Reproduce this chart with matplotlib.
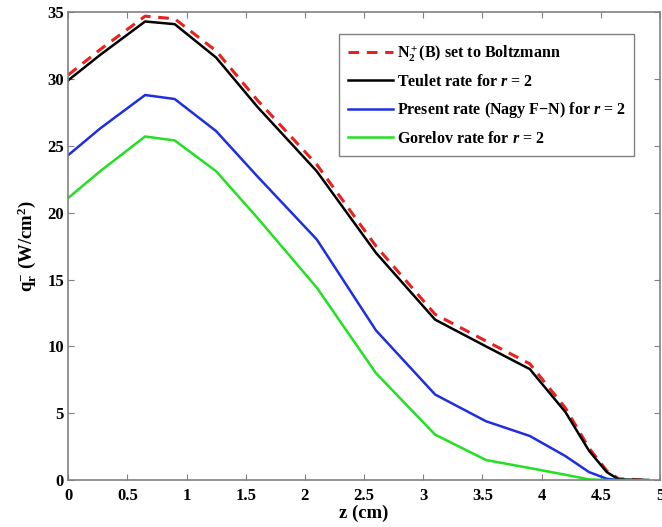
import numpy as np
import matplotlib
matplotlib.use("Agg")
import matplotlib.pyplot as plt

plt.rcParams['font.family'] = 'Liberation Serif'
plt.rcParams['font.weight'] = 'bold'
plt.rcParams['mathtext.fontset'] = 'custom'
plt.rcParams['mathtext.rm'] = 'Liberation Serif:bold'
plt.rcParams['mathtext.it'] = 'Liberation Serif:italic:bold'
plt.rcParams['mathtext.bf'] = 'Liberation Serif:bold'

# valores
z = [0, 0.27, 0.65, 0.9, 1.25, 1.6, 2.1, 2.6, 3.1, 3.53, 3.9, 4.2, 4.4, 4.55, 4.65, 4.9]
boltzmann = [30.3, 32.2, 34.7, 34.5, 32.1, 28.4, 23.6, 17.5, 12.4, 10.4, 8.7, 5.4, 2.4, 0.7, 0.1, 0.0]
teulet = [29.9, 31.8, 34.3, 34.1, 31.6, 27.9, 23.1, 17.0, 12.0, 10.0, 8.3, 5.1, 2.2, 0.6, 0.05, 0.0]
nagy = [24.3, 26.3, 28.8, 28.5, 26.1, 22.7, 18.0, 11.2, 6.4, 4.4, 3.3, 1.8, 0.6, 0.1, 0.0, 0.0]
gorelov = [21.1, 23.1, 25.7, 25.4, 23.1, 19.6, 14.4, 8.0, 3.4, 1.5, 0.9, 0.4, 0.05, 0.0, 0.0, 0.0]

etiquetas = [r'N$_2^+$(B) set to Boltzmann',
             r'Teulet rate for $r$ = 2',
             r'Present rate (Nagy F$-$N) for $r$ = 2',
             r'Gorelov rate for $r$ = 2']

fig = plt.figure(figsize=(6.62, 5.27), dpi=100)
ax = fig.add_axes([0.103, 0.089, 0.894, 0.888])

ax.plot(z, boltzmann, '--', color='#e8231e', lw=2.2, dashes=(3.5, 2.5), label=etiquetas[0])
ax.plot(z, teulet, '-', color='black', lw=1.8, label=etiquetas[1])
ax.plot(z, nagy, '-', color='#1f2ee0', lw=1.8, label=etiquetas[2])
ax.plot(z, gorelov, '-', color='#22e022', lw=1.8, label=etiquetas[3])

ax.set_xlim(0, 5)
ax.set_ylim(0, 35)
ax.set_xticks(np.arange(0, 5.01, 0.5))
ax.set_xticklabels(['0', '0.5', '1', '1.5', '2', '2.5', '3', '3.5', '4', '4.5', '5'])
ax.set_yticks(np.arange(0, 36, 5))
for s in ax.spines.values():
    s.set_color('#808080')
    s.set_linewidth(1.2)
ax.tick_params(direction='in', top=True, right=True, color='#808080',
               labelsize=12, length=4)
ax.tick_params(axis='x', pad=6)
ax.tick_params(axis='y', pad=3)

ax.set_xlabel('z (cm)', fontsize=13.5, fontweight='bold', labelpad=0)
ax.set_ylabel(r'q$_{\mathbf{r}}^{-}$ (W/cm$^2$)', fontsize=13.5, fontweight='bold', labelpad=6)

leg = ax.legend(loc='upper right', bbox_to_anchor=(0.97, 0.97), fontsize=11.5,
                fancybox=False, edgecolor='#606060', handlelength=2.8,
                handletextpad=0.25, borderpad=0.55, labelspacing=0.65)
leg.get_frame().set_linewidth(1.0)

fig.savefig('out.png', dpi=100)
